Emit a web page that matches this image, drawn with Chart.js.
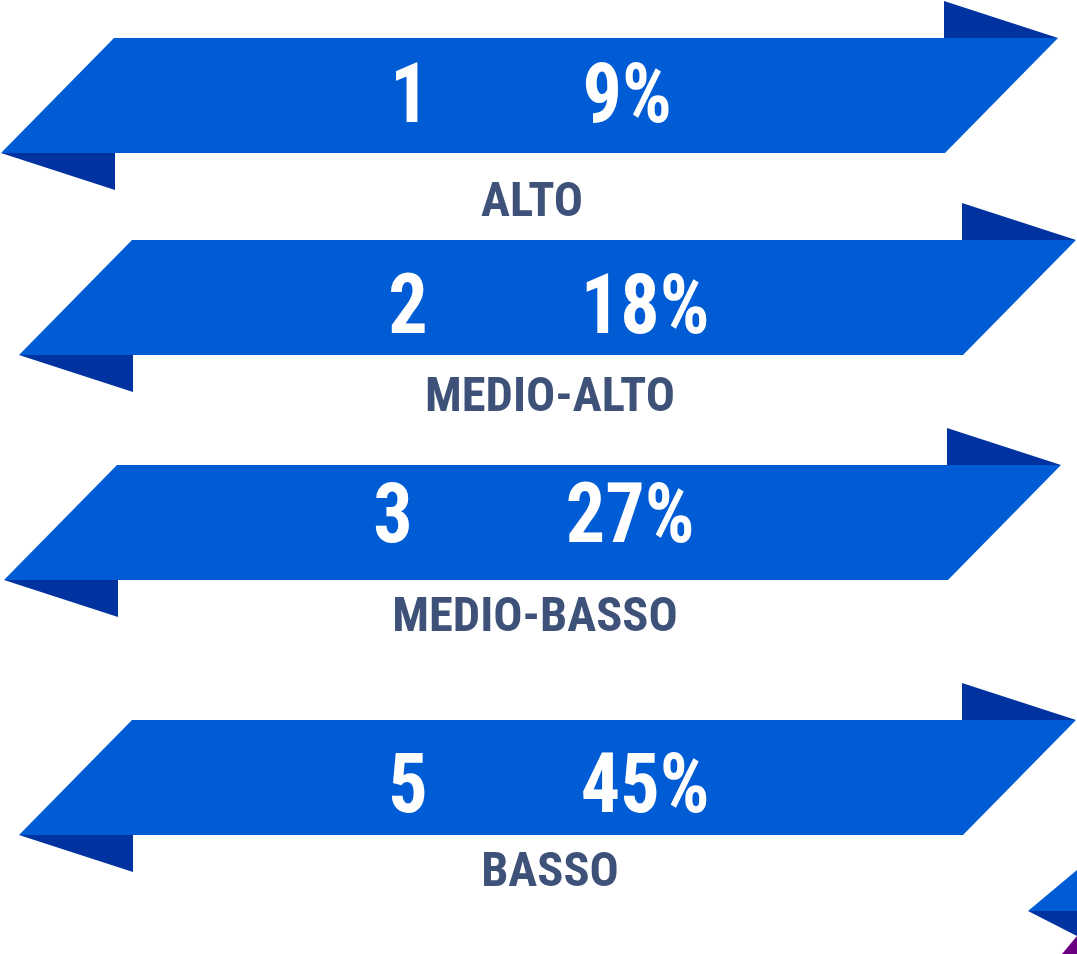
<!DOCTYPE html>
<html>
<head>
<meta charset="utf-8">
<script src="https://cdn.jsdelivr.net/npm/chart.js@4.4.1/dist/chart.umd.min.js"></script>
<style>
html,body{margin:0;padding:0;background:#ffffff;}
#wrap{width:1077px;height:954px;}
</style>
</head>
<body>
<div id="wrap"><canvas id="c" width="1077" height="954"></canvas></div>
<script>
// ---- data ----
const ranks = ['1', '2', '3', '5'];
const shares = [9, 18, 27, 45];
const levels = ['ALTO', 'MEDIO-ALTO', 'MEDIO-BASSO', 'BASSO'];

// ---- layout (positions in chart units) ----
const ribbonLayout = [
  { x0: 1,  top: 38,  numBase: 84, labelBase: 178 },
  { x0: 19, top: 240, numBase: 93, labelBase: 171 },
  { x0: 4,  top: 465, numBase: 77, labelBase: 166 },
  { x0: 19, top: 720, numBase: 92, labelBase: 166 }
];

const ribbonPlugin = {
  id: 'ribbons',
  afterDatasetsDraw(chart, args, opts) {
    const ctx = chart.ctx;
    const xs = chart.scales.x, ys = chart.scales.y;
    const P = (x, y) => [xs.getPixelForValue(x), ys.getPixelForValue(y)];
    const poly = (pts, color) => {
      ctx.beginPath();
      pts.forEach((p, i) => { const q = P(p[0], p[1]); i ? ctx.lineTo(q[0], q[1]) : ctx.moveTo(q[0], q[1]); });
      ctx.closePath();
      ctx.fillStyle = color;
      ctx.fill();
    };
    const drawText = (txt, x, y, size, sx, color) => {
      ctx.save();
      ctx.font = 'bold ' + size + 'px ' + opts.font;
      ctx.fillStyle = color;
      ctx.textBaseline = 'alphabetic';
      ctx.textAlign = 'left';
      ctx.translate(x, y);
      ctx.scale(sx, 1);
      ctx.fillText(txt, 0, 0);
      ctx.restore();
    };
    const width = (txt, size, sx) => {
      ctx.save();
      ctx.font = 'bold ' + size + 'px ' + opts.font;
      const w = ctx.measureText(txt).width * sx;
      ctx.restore();
      return w;
    };
    const L = opts.len, H = opts.height, S = opts.slant, FW = opts.foldW, FH = opts.foldH;
    ribbonLayout.forEach((r, i) => {
      const x0 = r.x0, t = r.top, b = r.top + H;
      // back folds
      poly([[x0 + L - FW, t - FH], [x0 + L, t], [x0 + L - FW, t]], opts.dark);
      poly([[x0, b], [x0 + FW, b], [x0 + FW, b + FH]], opts.dark);
      // main band
      poly([[x0 + S, t], [x0 + L, t], [x0 + L - S, b], [x0, b]], opts.blue);
      // number + share, centered as one line
      const rk = ranks[i], pc = shares[i] + '%';
      const wr = width(rk, opts.numSize, opts.numScale);
      const wp = width(pc, opts.numSize, opts.numScale);
      const total = wr + opts.gap + wp;
      const c = P(x0 + opts.centerOff, t + r.numBase);
      const start = c[0] - total / 2;
      drawText(rk, start, c[1], opts.numSize, opts.numScale, '#ffffff');
      drawText(pc, start + wr + opts.gap, c[1], opts.numSize, opts.numScale, '#ffffff');
      // level label
      const wl = width(levels[i], opts.labelSize, opts.labelScale);
      const lc = P(x0 + opts.labelOff, t + r.labelBase);
      drawText(levels[i], lc[0] - wl / 2, lc[1], opts.labelSize, opts.labelScale, opts.labelColor);
    });
    // partial ribbon peeking in bottom-right corner
    poly([[1028, 911], [1077, 870], [1077, 911]], opts.blue);
    poly([[1028, 911], [1077, 911], [1077, 936]], opts.dark);
    poly([[1062, 954], [1077, 936], [1077, 954]], opts.purple);
  }
};

new Chart(document.getElementById('c'), {
  type: 'scatter',
  data: {
    datasets: [{
      label: 'share',
      data: shares.map((v, i) => ({ x: ribbonLayout[i].x0, y: ribbonLayout[i].top })),
      pointRadius: 0,
      pointHoverRadius: 0
    }]
  },
  options: {
    responsive: false,
    animation: false,
    events: [],
    layout: { padding: 0 },
    scales: {
      x: { type: 'linear', min: 0, max: 1077, display: false },
      y: { type: 'linear', min: 0, max: 954, reverse: true, display: false }
    },
    plugins: {
      legend: { display: false },
      tooltip: { enabled: false },
      ribbons: {
        font: '"Roboto Condensed", Roboto, "Liberation Sans", sans-serif',
        blue: '#005cd4',
        dark: '#0033a0',
        purple: '#6a0080',
        labelColor: '#3e5279',
        len: 1057, height: 115, slant: 113, foldW: 114, foldH: 37,
        numSize: 84, numScale: 0.93, gap: 153, centerOff: 530,
        labelSize: 48, labelScale: 1.01, labelOff: 531
      }
    }
  },
  plugins: [ribbonPlugin]
});
</script>
</body>
</html>
